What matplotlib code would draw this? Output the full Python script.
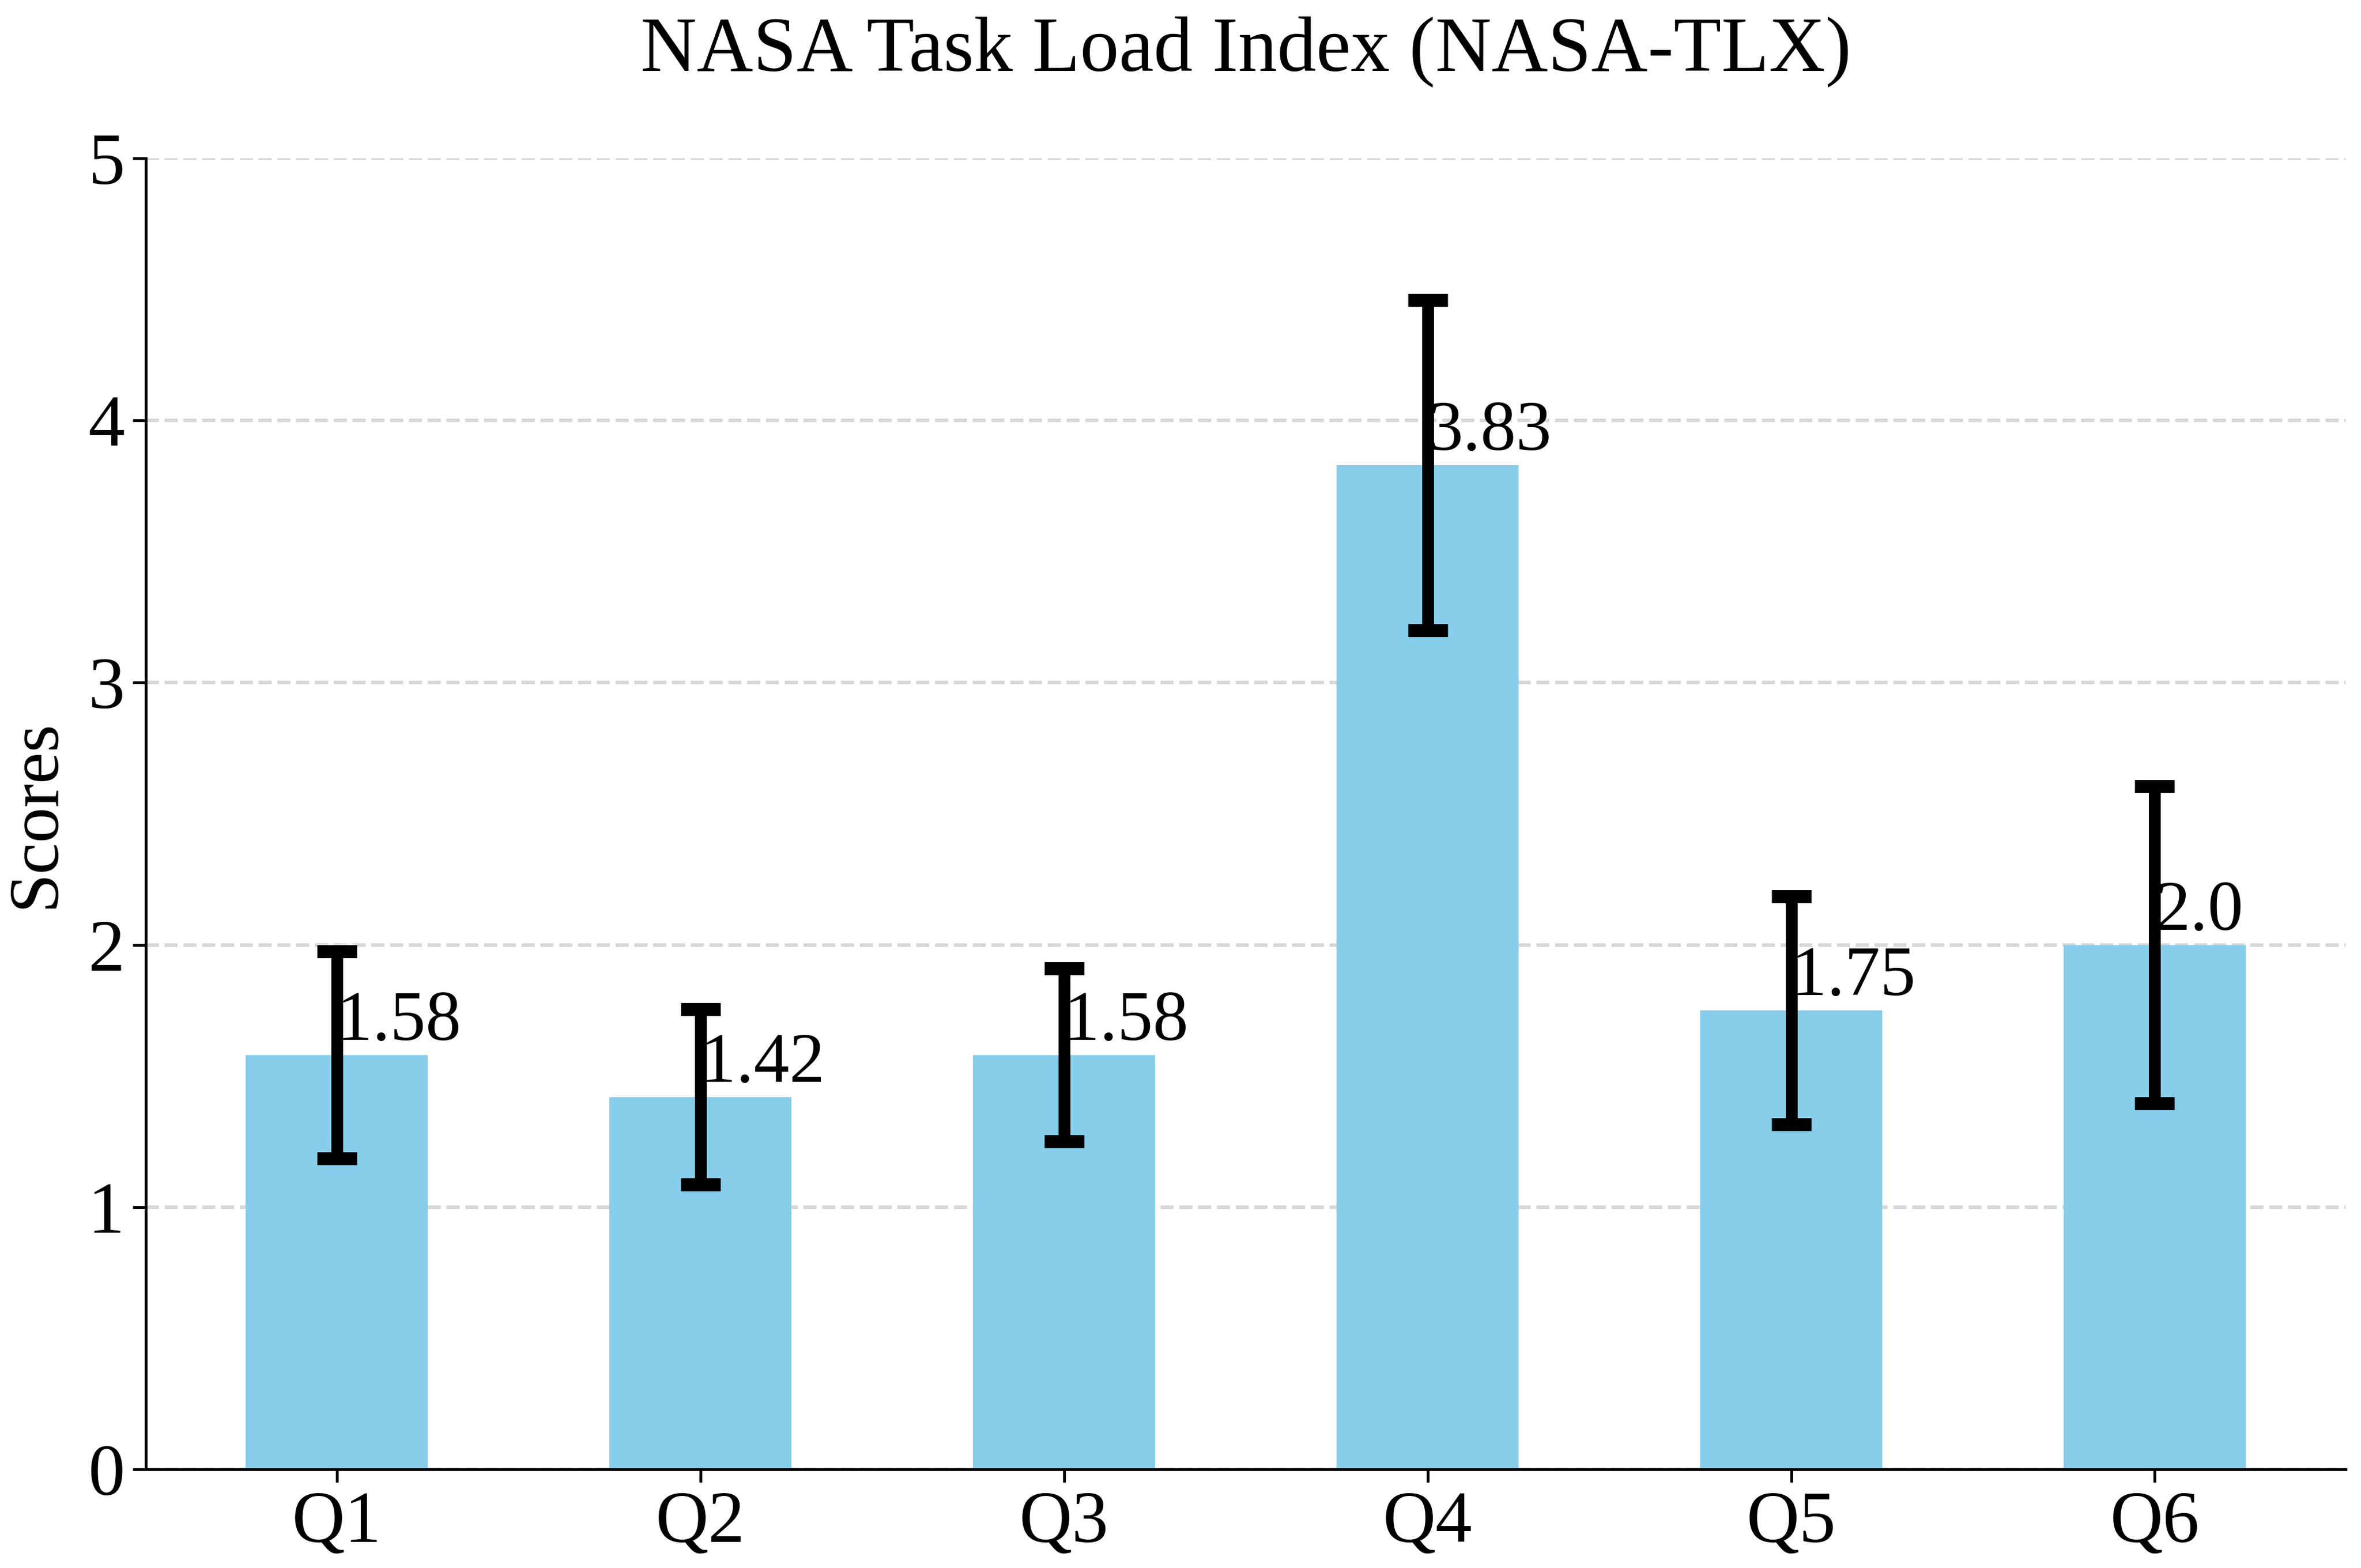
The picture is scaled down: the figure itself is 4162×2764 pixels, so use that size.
import matplotlib
matplotlib.use("Agg")
import matplotlib.pyplot as plt

questions = ["Q1", "Q2", "Q3", "Q4", "Q5", "Q6"]
means = [1.58, 1.42, 1.58, 3.83, 1.75, 2.0]
errors = [0.395, 0.335, 0.33, 0.63, 0.435, 0.605]

plt.rcParams['font.family'] = ['Liberation Serif', 'DejaVu Serif']
plt.rcParams['font.size'] = 32

fig = plt.figure(figsize=(4162 / 300, 2764 / 300), dpi=300)
ax = fig.add_axes([0.0618, 0.063, 0.9317, 0.836])

x = list(range(len(questions)))
ax.bar(x, means, width=0.5, color='skyblue', yerr=errors,
       error_kw=dict(ecolor='black', elinewidth=5, capsize=8.5, capthick=5.5), zorder=2)

for i, v in enumerate(means):
    ax.text(x[i], v, str(round(v, 2)), ha='left', va='bottom', fontsize=30, zorder=3)

ax.set_xticks(x)
ax.set_xticklabels(questions)
ax.set_ylim(0, 5)
ax.set_ylabel('Scores', fontsize=30, labelpad=8)
ax.set_title('NASA Task Load Index (NASA-TLX)', fontsize=33, pad=37)
ax.yaxis.grid(True, linestyle='--', color='lightgray', linewidth=1.5, alpha=0.9, zorder=0)
ax.set_axisbelow(True)
ax.spines['top'].set_visible(False)
ax.spines['right'].set_visible(False)
for s in ['left', 'bottom']:
    ax.spines[s].set_linewidth(1.2)
ax.tick_params(axis='both', width=1.2, length=5.5, labelsize=31)

fig.savefig('out.png', dpi=300)
